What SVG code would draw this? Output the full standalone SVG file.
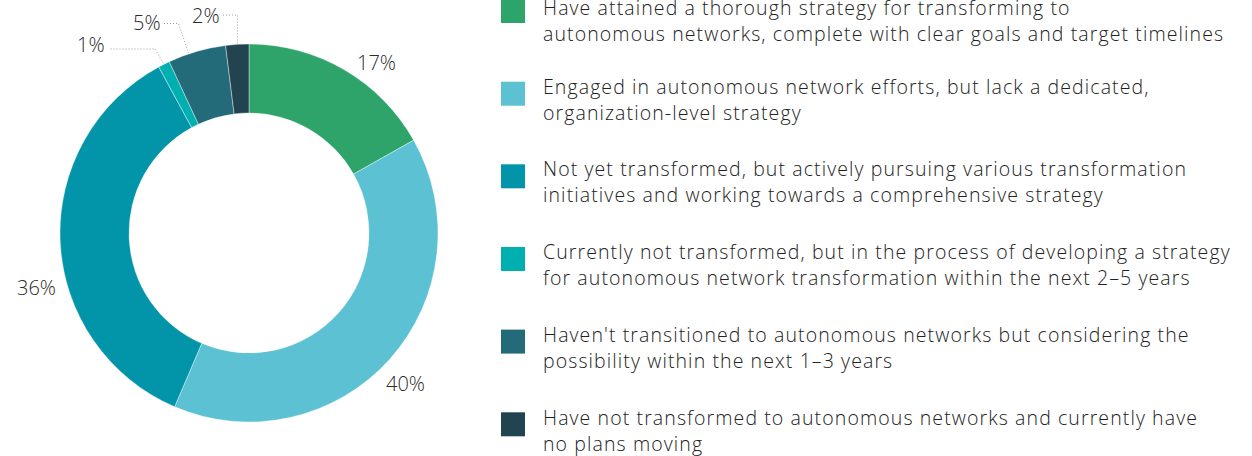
<svg xmlns="http://www.w3.org/2000/svg" width="1252" height="456" viewBox="0 0 1252 456">
<style>
.lbl{font-family:"Open Sans","Liberation Sans",sans-serif;font-weight:300;font-size:20px;fill:#2a2a2a}
.lg{font-family:"Open Sans","Liberation Sans",sans-serif;font-weight:300;font-size:19.5px;letter-spacing:1.1px;fill:#222}
.seg{stroke:#fff;stroke-width:0.4}
.lead{fill:none;stroke:#9a9a9a;stroke-width:1;stroke-dasharray:1 2}
</style>
<rect width="1252" height="456" fill="#fff"/>
<g id="donut">
<path id="s17" class="seg" fill="#2ea46b" d="M249,44 A189,189 0 0 1 413.66,140.20 L353.54,174.08 A120,120 0 0 0 249,113 Z"/>
<path id="s40" class="seg" fill="#5bc1d3" d="M413.66,140.20 A189,189 0 0 1 174.64,406.76 L201.79,343.32 A120,120 0 0 0 353.54,174.08 Z"/>
<path id="s36" class="seg" fill="#0295aa" d="M174.64,406.76 A189,189 0 0 1 158.77,66.93 L191.71,127.56 A120,120 0 0 0 201.79,343.32 Z"/>
<path id="s1" class="seg" fill="#00b0b0" d="M158.77,66.93 A189,189 0 0 1 169.27,61.64 L198.38,124.20 A120,120 0 0 0 191.71,127.56 Z"/>
<path id="s5" class="seg" fill="#236b78" d="M169.27,61.64 A189,189 0 0 1 225.55,45.46 L234.11,113.93 A120,120 0 0 0 198.38,124.20 Z"/>
<path id="s2" class="seg" fill="#224450" d="M225.55,45.46 A189,189 0 0 1 249,44 L249,113 A120,120 0 0 0 234.11,113.93 Z"/>
</g>
<g id="connectors">
<path class="lead" d="M223,15 H237.5 V44"/>
<path class="lead" d="M164,23.5 H178.5 L188.5,53"/>
<path class="lead" d="M110.5,49 H155 L163.5,63.5"/>
</g>
<g id="labels">
<text class="lbl" x="357" y="70">17%</text>
<text class="lbl" x="192" y="23">2%</text>
<text class="lbl" x="133" y="29.5">5%</text>
<text class="lbl" x="77" y="52">1%</text>
<text class="lbl" x="17" y="295">36%</text>
<text class="lbl" x="386" y="391">40%</text>
</g>
<g id="legend1">
<rect x="501" y="-1" width="24" height="24" fill="#2ea46b"/>
<text class="lg" x="543" y="15">Have attained a thorough strategy for transforming to</text>
<text class="lg" x="543" y="40.5">autonomous networks, complete with clear goals and target timelines</text>
</g>
<g id="legend2">
<rect x="501" y="81.7" width="24" height="24" fill="#5bc1d3"/>
<text class="lg" x="543" y="93.5">Engaged in autonomous network efforts, but lack a dedicated,</text>
<text class="lg" x="543" y="119.5">organization-level strategy</text>
</g>
<g id="legend3">
<rect x="501" y="164.3" width="24" height="24" fill="#0295aa"/>
<text class="lg" x="543" y="176">Not yet transformed, but actively pursuing various transformation</text>
<text class="lg" x="543" y="202">initiatives and working towards a comprehensive strategy</text>
</g>
<g id="legend4">
<rect x="501" y="247" width="24" height="24" fill="#00b0b0"/>
<text class="lg" x="543" y="259">Currently not transformed, but in the process of developing a strategy</text>
<text class="lg" x="543" y="285">for autonomous network transformation within the next 2–5 years</text>
</g>
<g id="legend5">
<rect x="501" y="329.6" width="24" height="24" fill="#236b78"/>
<text class="lg" x="543" y="341.5">Haven't transitioned to autonomous networks but considering the</text>
<text class="lg" x="543" y="367.5">possibility within the next 1–3 years</text>
</g>
<g id="legend6">
<rect x="501" y="412.3" width="24" height="24" fill="#224450"/>
<text class="lg" x="543" y="424.5">Have not transformed to autonomous networks and currently have</text>
<text class="lg" x="543" y="450.5">no plans moving</text>
</g>
</svg>
